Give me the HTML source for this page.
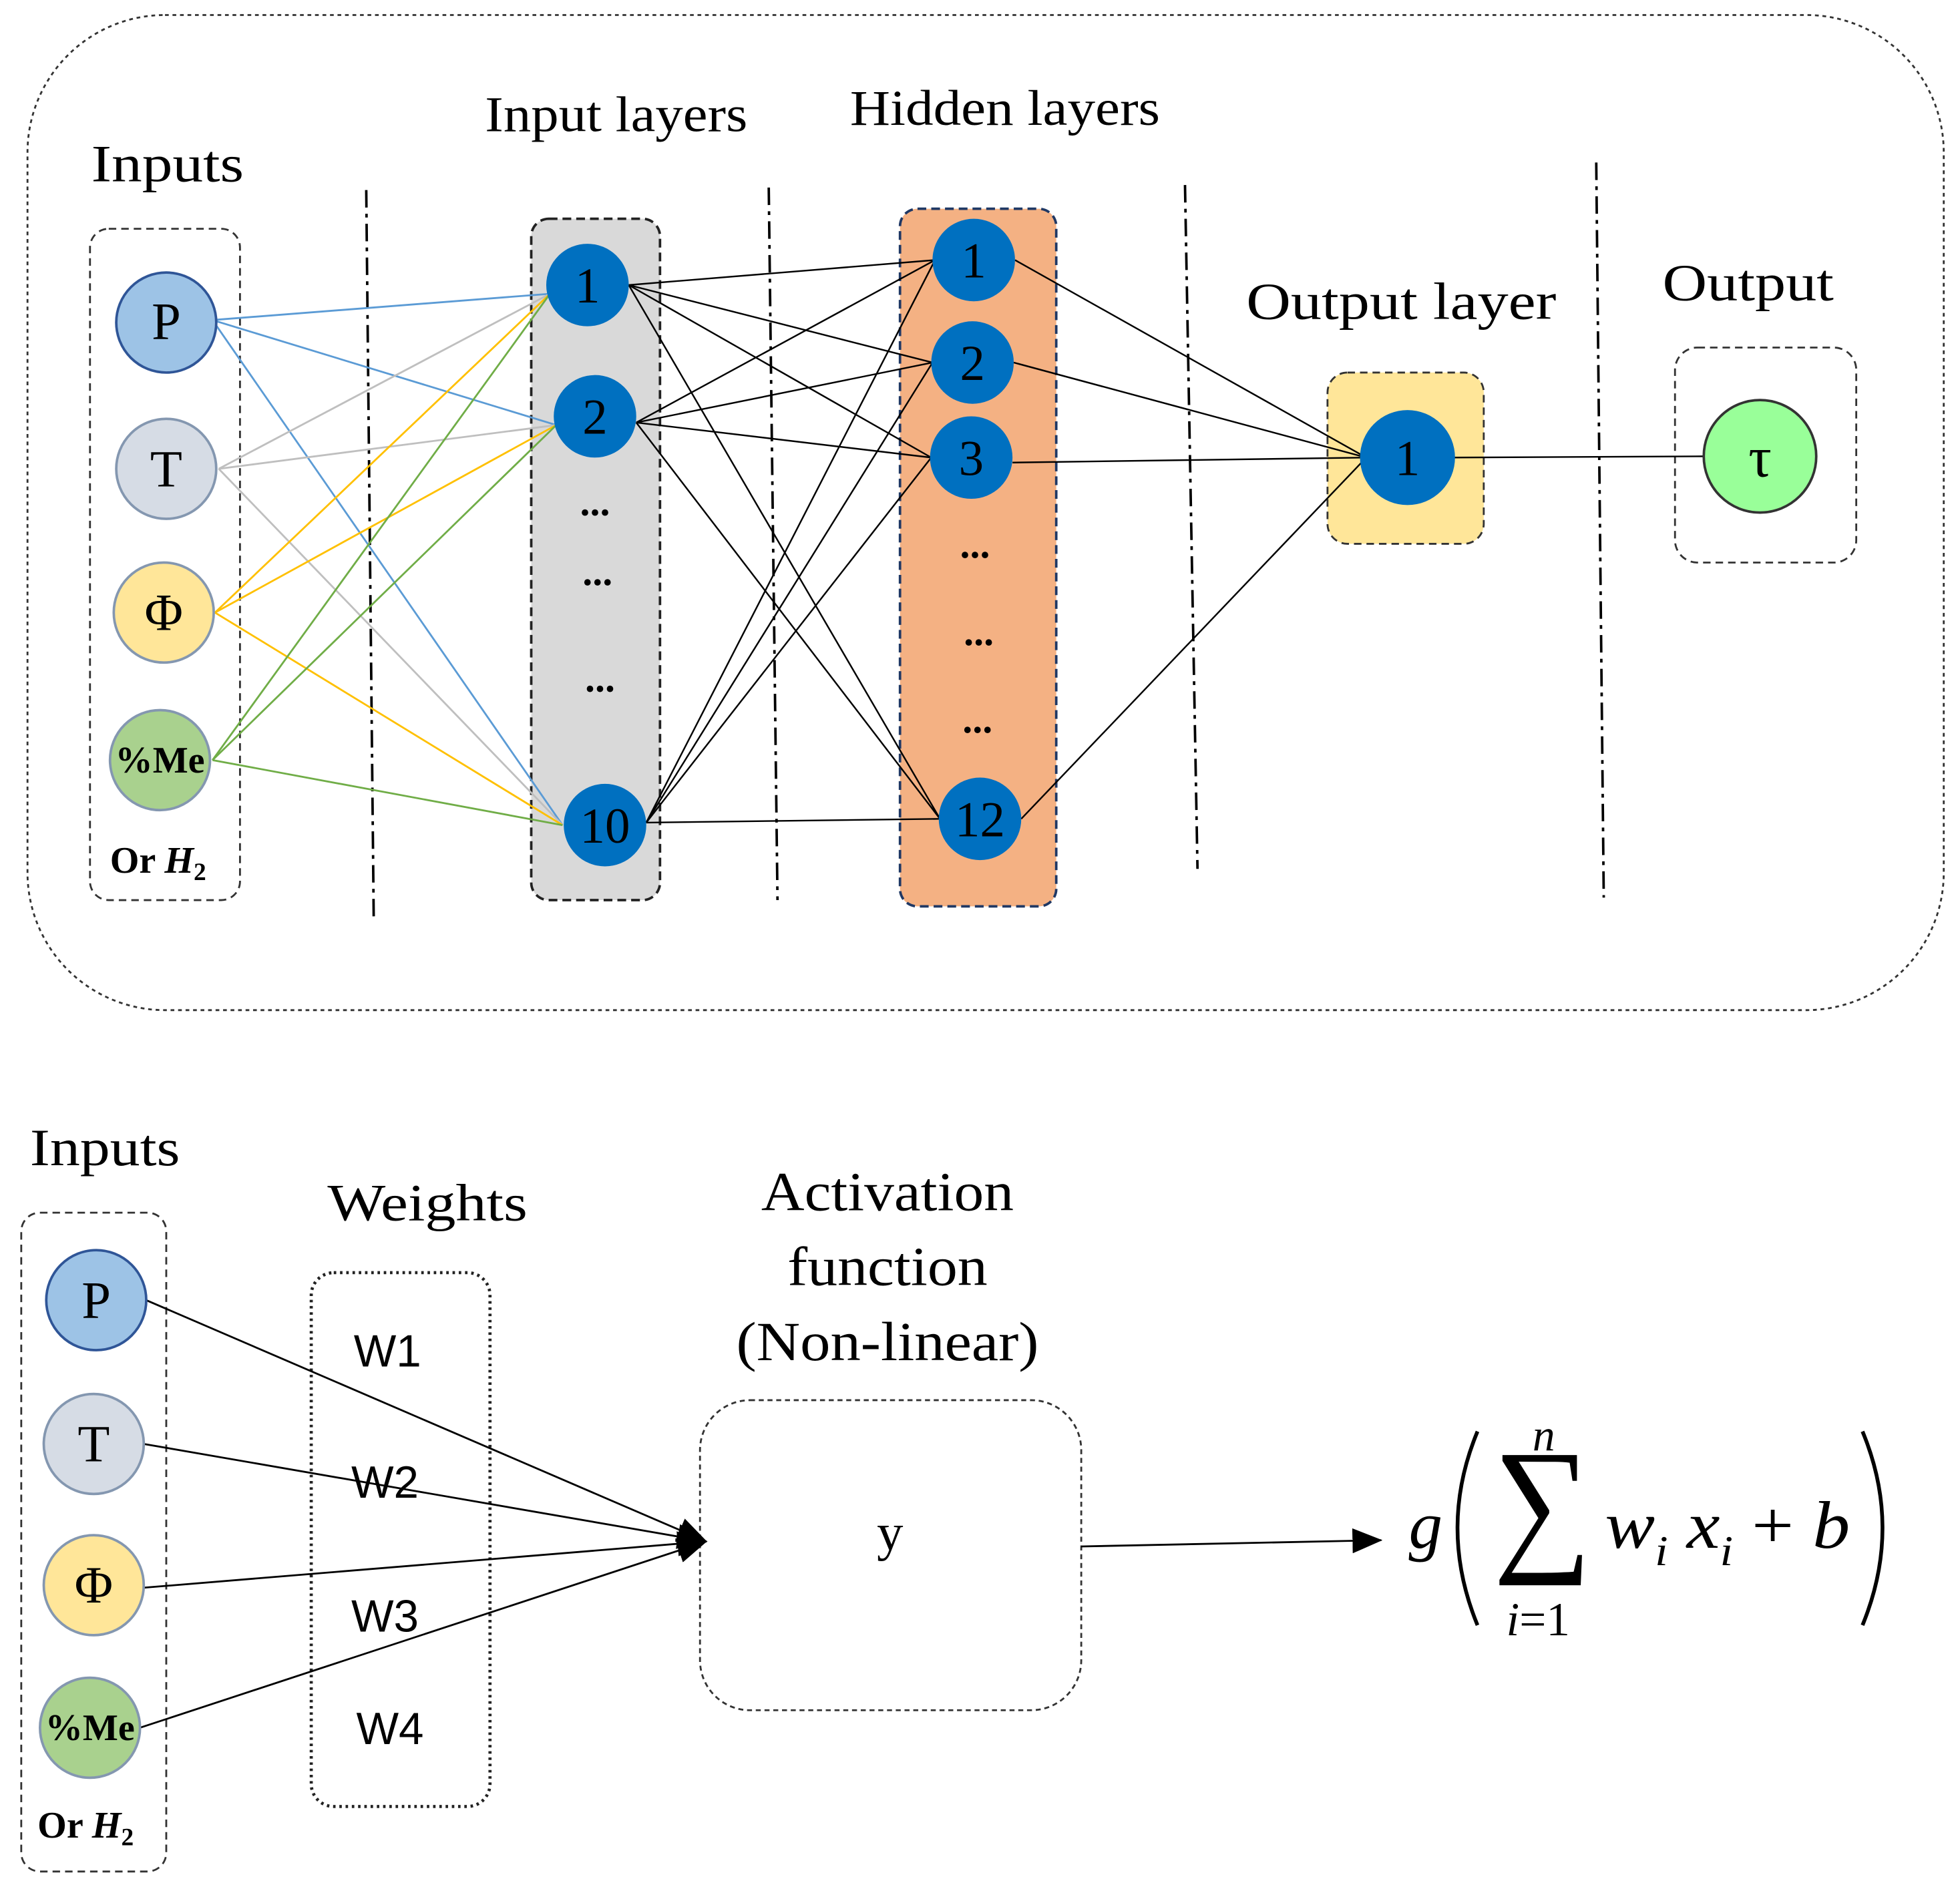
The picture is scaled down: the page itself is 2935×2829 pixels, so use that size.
<!DOCTYPE html>
<html><head><meta charset="utf-8"><style>
html,body{margin:0;padding:0;background:#fff;}
svg{display:block;}
text{font-family:"Liberation Serif",serif;fill:#000;}
</style></head><body>
<svg width="2935" height="2829" viewBox="0 0 1568 1511" preserveAspectRatio="none" xmlns="http://www.w3.org/2000/svg">
<defs>
<marker id="ar2" markerWidth="24" markerHeight="20" refX="23" refY="10" orient="auto" markerUnits="userSpaceOnUse"><path d="M0,0 L24,10 L0,20 z" fill="#000"/></marker></defs>
<rect x="22" y="12" width="1533" height="796" rx="110" fill="none" stroke="#333" stroke-width="1.5" stroke-dasharray="3,3"/>
<text x="73" y="145" font-size="42" textLength="122" lengthAdjust="spacingAndGlyphs">Inputs</text>
<text x="388" y="105" font-size="40" textLength="210" lengthAdjust="spacingAndGlyphs">Input layers</text>
<text x="680" y="100" font-size="40" textLength="248" lengthAdjust="spacingAndGlyphs">Hidden layers</text>
<text x="997" y="255" font-size="42" textLength="248" lengthAdjust="spacingAndGlyphs">Output layer</text>
<text x="1330" y="240" font-size="42" textLength="137" lengthAdjust="spacingAndGlyphs">Output</text>
<g stroke="#000" stroke-width="2" stroke-dasharray="14,5,3,5" fill="none">
<line x1="293" y1="152" x2="299" y2="737"/><line x1="615" y1="150" x2="622" y2="720"/><line x1="948" y1="148" x2="958" y2="695"/><line x1="1277" y1="130" x2="1283" y2="718"/></g>
<rect x="72" y="183" width="120" height="537" rx="15" fill="none" stroke="#333" stroke-width="1.5" stroke-dasharray="6,4"/>
<rect x="425" y="175" width="103" height="545" rx="14" fill="#d9d9d9" stroke="#222" stroke-width="2" stroke-dasharray="7,4"/>
<rect x="720" y="167" width="125" height="558" rx="14" fill="#f4b183" stroke="#1f3864" stroke-width="2" stroke-dasharray="7,4"/>
<rect x="1062" y="298" width="125" height="137" rx="16" fill="#ffe699" stroke="#333" stroke-width="1.5" stroke-dasharray="6,4"/>
<rect x="1340" y="278" width="145" height="172" rx="18" fill="none" stroke="#333" stroke-width="1.5" stroke-dasharray="6,4"/>
<g stroke-width="1.5">
<line x1="170" y1="256" x2="440" y2="235" stroke="#5b9bd5"/><line x1="170" y1="256" x2="445" y2="340" stroke="#5b9bd5"/><line x1="170" y1="256" x2="450" y2="660" stroke="#5b9bd5"/>
<line x1="175" y1="375" x2="440" y2="235" stroke="#bfbfbf"/><line x1="175" y1="375" x2="445" y2="340" stroke="#bfbfbf"/><line x1="175" y1="375" x2="450" y2="660" stroke="#bfbfbf"/>
<line x1="172" y1="490" x2="440" y2="235" stroke="#ffc000"/><line x1="172" y1="490" x2="445" y2="340" stroke="#ffc000"/><line x1="172" y1="490" x2="450" y2="660" stroke="#ffc000"/>
<line x1="170" y1="608" x2="440" y2="235" stroke="#70ad47"/><line x1="170" y1="608" x2="445" y2="340" stroke="#70ad47"/><line x1="170" y1="608" x2="450" y2="660" stroke="#70ad47"/>
</g>
<g stroke="#000" stroke-width="1.3">
<line x1="503" y1="228" x2="748" y2="208"/><line x1="503" y1="228" x2="746" y2="290"/><line x1="503" y1="228" x2="745" y2="366"/><line x1="503" y1="228" x2="752" y2="655"/>
<line x1="509" y1="338" x2="748" y2="208"/><line x1="509" y1="338" x2="746" y2="290"/><line x1="509" y1="338" x2="745" y2="366"/><line x1="509" y1="338" x2="752" y2="655"/>
<line x1="517" y1="658" x2="748" y2="208"/><line x1="517" y1="658" x2="746" y2="290"/><line x1="517" y1="658" x2="745" y2="366"/><line x1="517" y1="658" x2="752" y2="655"/>
<line x1="812" y1="208" x2="1093" y2="366"/><line x1="811" y1="290" x2="1093" y2="366"/><line x1="810" y1="370" x2="1093" y2="366"/><line x1="817" y1="655" x2="1093" y2="366"/>
<line x1="1159" y1="366" x2="1363" y2="365"/>
</g>
<g stroke="#2f5597" stroke-width="2">
<circle cx="133" cy="258" r="40" fill="#9dc3e6"/><circle cx="133" cy="375" r="40" fill="#d6dce5" stroke="#8497b0"/>
<circle cx="131" cy="490" r="40" fill="#ffe699" stroke="#8497b0"/><circle cx="128" cy="608" r="40" fill="#a9d18e" stroke="#8497b0"/>
</g>
<g font-size="42" text-anchor="middle"><text x="133" y="271">P</text><text x="133" y="389">T</text><text x="131" y="504">Φ</text></g>
<text x="128" y="618" font-size="30" font-weight="bold" text-anchor="middle">%Me</text>
<text x="88" y="698" font-size="30" font-weight="bold">Or <tspan font-style="italic">H</tspan><tspan font-size="20" dy="6">2</tspan></text>
<g fill="#0070c0">
<circle cx="470" cy="228" r="33"/><circle cx="476" cy="333" r="33"/><circle cx="484" cy="660" r="33"/>
<circle cx="779" cy="208" r="33"/><circle cx="778" cy="290" r="33"/><circle cx="777" cy="366" r="33"/><circle cx="784" cy="655" r="33"/>
<circle cx="1126" cy="366" r="38"/></g>
<g font-size="40" text-anchor="middle">
<text x="470" y="242">1</text><text x="476" y="347">2</text><text x="484" y="674">10</text>
<text x="779" y="222">1</text><text x="778" y="304">2</text><text x="777" y="380">3</text><text x="784" y="669">12</text>
<text x="1126" y="380">1</text>
<text x="476" y="412" font-size="32" font-weight="bold">...</text><text x="478" y="468" font-size="32" font-weight="bold">...</text><text x="480" y="553" font-size="32" font-weight="bold">...</text>
<text x="780" y="446" font-size="32" font-weight="bold">...</text><text x="783" y="516" font-size="32" font-weight="bold">...</text><text x="782" y="586" font-size="32" font-weight="bold">...</text>
</g>
<circle cx="1408" cy="365" r="45" fill="#99ff99" stroke="#333" stroke-width="2"/>
<text x="1408" y="381" font-size="46" text-anchor="middle">τ</text>

<text x="24" y="932" font-size="42" textLength="120" lengthAdjust="spacingAndGlyphs">Inputs</text>
<text x="262" y="976" font-size="42" textLength="160" lengthAdjust="spacingAndGlyphs">Weights</text>
<g font-size="44" text-anchor="middle"><text x="710" y="968" textLength="202" lengthAdjust="spacingAndGlyphs">Activation</text><text x="710" y="1028" textLength="160" lengthAdjust="spacingAndGlyphs">function</text><text x="710" y="1088" textLength="242" lengthAdjust="spacingAndGlyphs">(Non-linear)</text></g>
<rect x="17" y="970" width="116" height="527" rx="15" fill="none" stroke="#333" stroke-width="1.5" stroke-dasharray="6,4"/>
<rect x="249" y="1018" width="143" height="427" rx="18" fill="none" stroke="#222" stroke-width="2.5" stroke-dasharray="2,3"/>
<rect x="560" y="1120" width="305" height="248" rx="40" fill="none" stroke="#333" stroke-width="1.5" stroke-dasharray="4,3"/>
<g font-size="36"><text x="283" y="1093" style="font-family:'Liberation Sans',sans-serif">W1</text><text x="281" y="1198" style="font-family:'Liberation Sans',sans-serif">W2</text><text x="281" y="1305" style="font-family:'Liberation Sans',sans-serif">W3</text><text x="285" y="1395" style="font-family:'Liberation Sans',sans-serif">W4</text></g>
<text x="712" y="1240" font-size="42" text-anchor="middle">y</text>
<g stroke="#000" stroke-width="1.5">
<line x1="117" y1="1040" x2="565" y2="1233" marker-end="url(#ar2)"/><line x1="115" y1="1155" x2="565" y2="1233" marker-end="url(#ar2)"/>
<line x1="115" y1="1270" x2="565" y2="1233" marker-end="url(#ar2)"/><line x1="112" y1="1382" x2="565" y2="1233" marker-end="url(#ar2)"/>
<line x1="865" y1="1237" x2="1105" y2="1232" marker-end="url(#ar2)"/>
</g>
<g stroke="#2f5597" stroke-width="2">
<circle cx="77" cy="1040" r="40" fill="#9dc3e6"/><circle cx="75" cy="1155" r="40" fill="#d6dce5" stroke="#8497b0"/>
<circle cx="75" cy="1268" r="40" fill="#ffe699" stroke="#8497b0"/><circle cx="72" cy="1382" r="40" fill="#a9d18e" stroke="#8497b0"/></g>
<g font-size="42" text-anchor="middle"><text x="77" y="1054">P</text><text x="75" y="1169">T</text><text x="75" y="1282">Φ</text></g>
<text x="72" y="1392" font-size="30" font-weight="bold" text-anchor="middle">%Me</text>
<text x="30" y="1470" font-size="30" font-weight="bold">Or <tspan font-style="italic">H</tspan><tspan font-size="20" dy="6">2</tspan></text>
<g font-style="italic" font-size="54">
<text x="1127" y="1238">g</text>
<text x="1226" y="1160" font-size="36">n</text>
<text x="1284" y="1238" textLength="196" lengthAdjust="spacingAndGlyphs">w<tspan font-size="34" dy="14">i</tspan><tspan dy="-14"> x</tspan><tspan font-size="34" dy="14">i</tspan><tspan dy="-14" font-style="normal"> + </tspan>b</text>
<text x="1205" y="1308" font-size="38">i<tspan font-style="normal">=1</tspan></text>
</g>
<text x="1200" y="1236" font-size="96" font-family="Liberation Serif" transform="translate(1236 1210) scale(1.15 1.25) translate(-1236 -1210)">∑</text>
<path d="M1182,1145 Q1150,1222 1182,1300" fill="none" stroke="#000" stroke-width="3"/>
<path d="M1490,1145 Q1522,1222 1490,1300" fill="none" stroke="#000" stroke-width="3"/>
</svg>
</body></html>
